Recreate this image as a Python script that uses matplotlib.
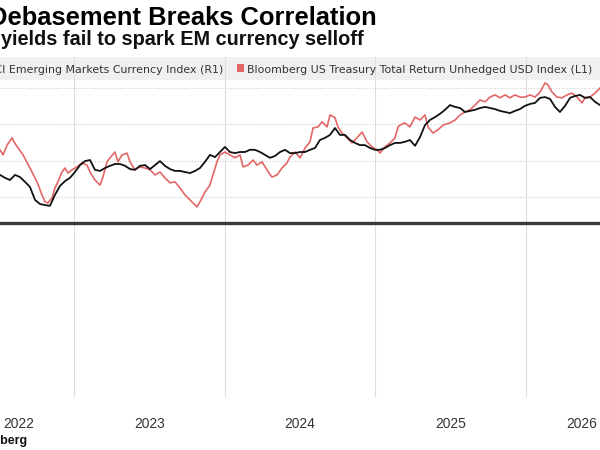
import matplotlib
matplotlib.use("Agg")
import matplotlib.pyplot as plt
from matplotlib.patches import Rectangle
from matplotlib.lines import Line2D
from matplotlib.transforms import blended_transform_factory

# ---------------- data ----------------
title = "Debasement Breaks Correlation"
subtitle = "yields fail to spark EM currency selloff"
em_name = "MSCI Emerging Markets Currency Index (R1)"
ust_name = "Bloomberg US Treasury Total Return Unhedged USD Index (L1)"
source = "Source: Bloomberg"

# Bloomberg US Treasury Total Return Unhedged USD Index (left axis)
ust_t = [2022.508, 2022.528, 2022.555, 2022.588, 2022.601, 2022.628, 2022.661, 2022.707, 2022.754, 2022.787,
         2022.807, 2022.827, 2022.854, 2022.873, 2022.893, 2022.920, 2022.940, 2022.960, 2022.986,
         2023.020, 2023.053, 2023.086, 2023.106, 2023.139, 2023.173, 2023.192, 2023.219, 2023.239, 2023.272,
         2023.292, 2023.319, 2023.352, 2023.372, 2023.405, 2023.438, 2023.472, 2023.505, 2023.538, 2023.571,
         2023.604, 2023.638, 2023.671, 2023.704, 2023.737, 2023.771, 2023.804, 2023.817, 2023.837, 2023.870,
         2023.903, 2023.923, 2023.950, 2023.970,
         2024.003, 2024.036, 2024.070, 2024.103, 2024.123, 2024.156, 2024.189, 2024.216, 2024.249, 2024.282,
         2024.315, 2024.349, 2024.382, 2024.415, 2024.435, 2024.468, 2024.502, 2024.535, 2024.568, 2024.588,
         2024.621, 2024.648, 2024.681, 2024.701, 2024.734, 2024.754, 2024.781, 2024.814, 2024.847, 2024.880,
         2024.914, 2024.947, 2024.980,
         2025.013, 2025.033, 2025.066, 2025.100, 2025.133, 2025.153, 2025.166, 2025.199, 2025.232, 2025.266,
         2025.299, 2025.332, 2025.352, 2025.385, 2025.418, 2025.452, 2025.498, 2025.532, 2025.565, 2025.598,
         2025.631, 2025.664, 2025.698, 2025.731, 2025.764, 2025.797, 2025.831, 2025.864, 2025.897, 2025.930,
         2025.963, 2025.997,
         2026.030, 2026.063, 2026.097, 2026.130, 2026.150, 2026.176, 2026.209, 2026.243, 2026.276, 2026.309,
         2026.342, 2026.376, 2026.395, 2026.429, 2026.462, 2026.495]
ust_val = [2230, 2216, 2243, 2263, 2252, 2235, 2216, 2180, 2142, 2106,
           2087, 2084, 2098, 2125, 2142, 2169, 2180, 2166, 2175,
           2183, 2194, 2188, 2169, 2147, 2133, 2155, 2197, 2208, 2224,
           2197, 2216, 2221, 2197, 2175, 2183, 2180, 2175, 2161, 2169,
           2153, 2139, 2142, 2125, 2106, 2092, 2078, 2073, 2087, 2114,
           2133, 2161, 2197, 2216,
           2224, 2216, 2208, 2216, 2183, 2188, 2202, 2188, 2197, 2175,
           2155, 2161, 2180, 2194, 2210, 2224, 2208, 2235, 2252, 2290,
           2293, 2307, 2293, 2326, 2318, 2293, 2276, 2263, 2249, 2263,
           2279, 2252, 2238,
           2230, 2221, 2238, 2249, 2263, 2293, 2298, 2304, 2293, 2320,
           2312, 2326, 2293, 2276, 2285, 2298, 2304, 2312, 2326, 2334,
           2340, 2353, 2367, 2362, 2375, 2381, 2373, 2381, 2373, 2381,
           2375, 2375,
           2381, 2375, 2389, 2414, 2408, 2389, 2375, 2373, 2381, 2386,
           2375, 2359, 2373, 2375, 2386, 2400]

# MSCI Emerging Markets Currency Index (right axis)
em_t = [2022.508, 2022.541, 2022.574, 2022.608, 2022.641, 2022.674, 2022.707, 2022.741, 2022.774, 2022.807,
        2022.840, 2022.873, 2022.907, 2022.940, 2022.973,
        2023.006, 2023.040, 2023.073, 2023.106, 2023.139, 2023.173, 2023.206, 2023.239, 2023.272, 2023.305,
        2023.339, 2023.372, 2023.405, 2023.438, 2023.472, 2023.505, 2023.538, 2023.571, 2023.604, 2023.638,
        2023.671, 2023.704, 2023.737, 2023.771, 2023.804, 2023.837, 2023.870, 2023.903, 2023.937, 2023.970,
        2024.003, 2024.036, 2024.070, 2024.103, 2024.136, 2024.169, 2024.202, 2024.236, 2024.269, 2024.302,
        2024.335, 2024.369, 2024.402, 2024.435, 2024.468, 2024.502, 2024.535, 2024.568, 2024.601, 2024.634,
        2024.668, 2024.701, 2024.734, 2024.767, 2024.800, 2024.834, 2024.867, 2024.900, 2024.933, 2024.967,
        2025.000, 2025.033, 2025.066, 2025.100, 2025.133, 2025.166, 2025.199, 2025.232, 2025.266, 2025.299,
        2025.332, 2025.365, 2025.399, 2025.432, 2025.465, 2025.498, 2025.532, 2025.565, 2025.598, 2025.631,
        2025.664, 2025.698, 2025.731, 2025.764, 2025.797, 2025.831, 2025.864, 2025.897, 2025.930, 2025.963,
        2025.997,
        2026.030, 2026.063, 2026.097, 2026.130, 2026.163, 2026.196, 2026.229, 2026.263, 2026.296, 2026.329,
        2026.362, 2026.395, 2026.429, 2026.462, 2026.495]
em_val = [1661, 1653, 1647, 1661, 1655, 1642, 1628, 1592, 1581, 1578, 1576, 1606, 1631, 1644, 1653,
          1669, 1688, 1699, 1702, 1675, 1672, 1680, 1686, 1691, 1691, 1686, 1677, 1675, 1686, 1688,
          1677, 1688, 1699, 1686, 1677, 1672, 1672, 1669, 1666, 1672, 1680, 1697, 1716, 1710, 1724,
          1738, 1724, 1721, 1724, 1724, 1730, 1730, 1724, 1716, 1708, 1713, 1724, 1730, 1721, 1721,
          1724, 1724, 1730, 1735, 1757, 1763, 1771, 1790, 1771, 1771, 1757, 1749, 1743, 1743, 1735,
          1730, 1730, 1735, 1743, 1749, 1749, 1752, 1757, 1741, 1765, 1798, 1812, 1820, 1829, 1840,
          1853, 1848, 1845, 1834, 1837, 1840, 1845, 1848, 1845, 1842, 1837, 1834, 1831, 1837, 1842,
          1851,
          1856, 1859, 1873, 1875, 1870, 1848, 1834, 1851, 1873, 1878, 1881, 1873, 1875, 1862, 1853]

year_labels = ["2022", "2023", "2024", "2025", "2026"]
year_starts = [2023, 2024, 2025, 2026]
left_grid = [2100, 2200, 2300, 2400]

# ---------------- layout ----------------
W, H = 600, 450
def fx(px): return px / W
def fy(py): return 1 - py / H

RED = "#e36666"
BLACK = "#111111"
GRID = "#dedede"

fig = plt.figure(figsize=(W / 100, H / 100), dpi=100)
fig.patch.set_facecolor("white")

top_px, mid_px, bot_px, band_px = 57, 223, 397, 80
ax = fig.add_axes([0, fy(mid_px), 1, (mid_px - top_px) / H])
ax2 = ax.twinx()
low = fig.add_axes([0, fy(bot_px), 1, (bot_px - mid_px) / H])

xlim = (2022.508, 2026.495)
for a in (ax, ax2, low):
    a.set_xlim(*xlim)
    for s in a.spines.values():
        s.set_visible(False)
    a.tick_params(length=0, labelleft=False, labelright=False, labelbottom=False)

ax.set_ylim(2028.75, 2485.25)
ax2.set_ylim(1528.75, 1985.25)
ax.set_axisbelow(True)
ax.set_xticks(year_starts)
ax.set_yticks(left_grid)
ax.grid(axis="x", color=GRID, lw=0.8)
ax.grid(axis="y", color="#cfcfcf", lw=0.8, linestyle=(0, (1, 1.5)))
ax2.set_yticks([])

band_frac = (mid_px - band_px) / (mid_px - top_px)
ax.add_patch(Rectangle((0, band_frac), 1, 1 - band_frac, transform=ax.transAxes,
                       facecolor="#f0f0f0", edgecolor="none", zorder=0.1))

ax.plot(ust_t, ust_val, color=RED, lw=1.2, zorder=3)
ax2.plot(em_t, em_val, color=BLACK, lw=1.3, zorder=4)

low.set_yticks([])
low.set_xticks(year_starts)
low.grid(axis="x", color=GRID, lw=0.8)
low.patch.set_alpha(0)

fig.add_artist(Line2D([0, 1], [fy(mid_px)] * 2, transform=fig.transFigure,
                      color="#3a3a3a", lw=2.4))

renderer = fig.canvas.get_renderer()

def text_width(s, size, **kw):
    p = fig.text(0, 0, s, fontsize=size, **kw)
    w = p.get_window_extent(renderer).width
    p.remove()
    return w

# title: visible "ebasement Breaks Correlation" runs from x=8 to x=377
tkw = dict(weight="bold", family="Liberation Sans")
tsize = 17 * 369 / text_width("ebasement Breaks Correlation", 17, **tkw)
d_w = text_width("D", tsize, **tkw)
fig.text(fx(8 - d_w), fy(25), title, fontsize=tsize, va="baseline", ha="left",
         color="#000000", **tkw)

ssize = 12 * 361 / text_width(subtitle, 12, **tkw)
fig.text(fx(1), fy(45), subtitle, fontsize=ssize, va="baseline", ha="left",
         color="#111111", **tkw)

# legend
lkw = dict(family="DejaVu Sans")
lsize = 8 * 345 / text_width(ust_name, 8, **lkw)
fig.text(fx(247), fy(73), ust_name, fontsize=lsize, va="baseline", ha="left",
         color="#333333", **lkw)
fig.text(fx(223), fy(73), em_name, fontsize=lsize, va="baseline", ha="right",
         color="#333333", **lkw)
fig.add_artist(Rectangle((fx(237), fy(72)), 7 / W, 8 / H, transform=fig.transFigure,
                         facecolor=RED, edgecolor="none"))

# year labels (centred in each year, end ones pulled inside the frame)
label_pos = [2022.63, 2023.5, 2024.5, 2025.5, 2026.375]
trans = blended_transform_factory(low.transData, fig.transFigure)
ykw = dict(family="Liberation Sans")
ysize = 10 * 31 / text_width("2023", 10, **ykw)
for lab, xp in zip(year_labels, label_pos):
    fig.text(xp, fy(428), lab, transform=trans, fontsize=ysize, ha="center",
             va="baseline", color="#333333", **ykw)

skw = dict(weight="bold", family="Liberation Sans")
srcsize = 9 * 27 / text_width("berg", 9, **skw)
fig.text(fx(27), fy(444), source, fontsize=srcsize, ha="right", va="baseline",
         color="#111111", **skw)

fig.savefig("out.png", dpi=100)
